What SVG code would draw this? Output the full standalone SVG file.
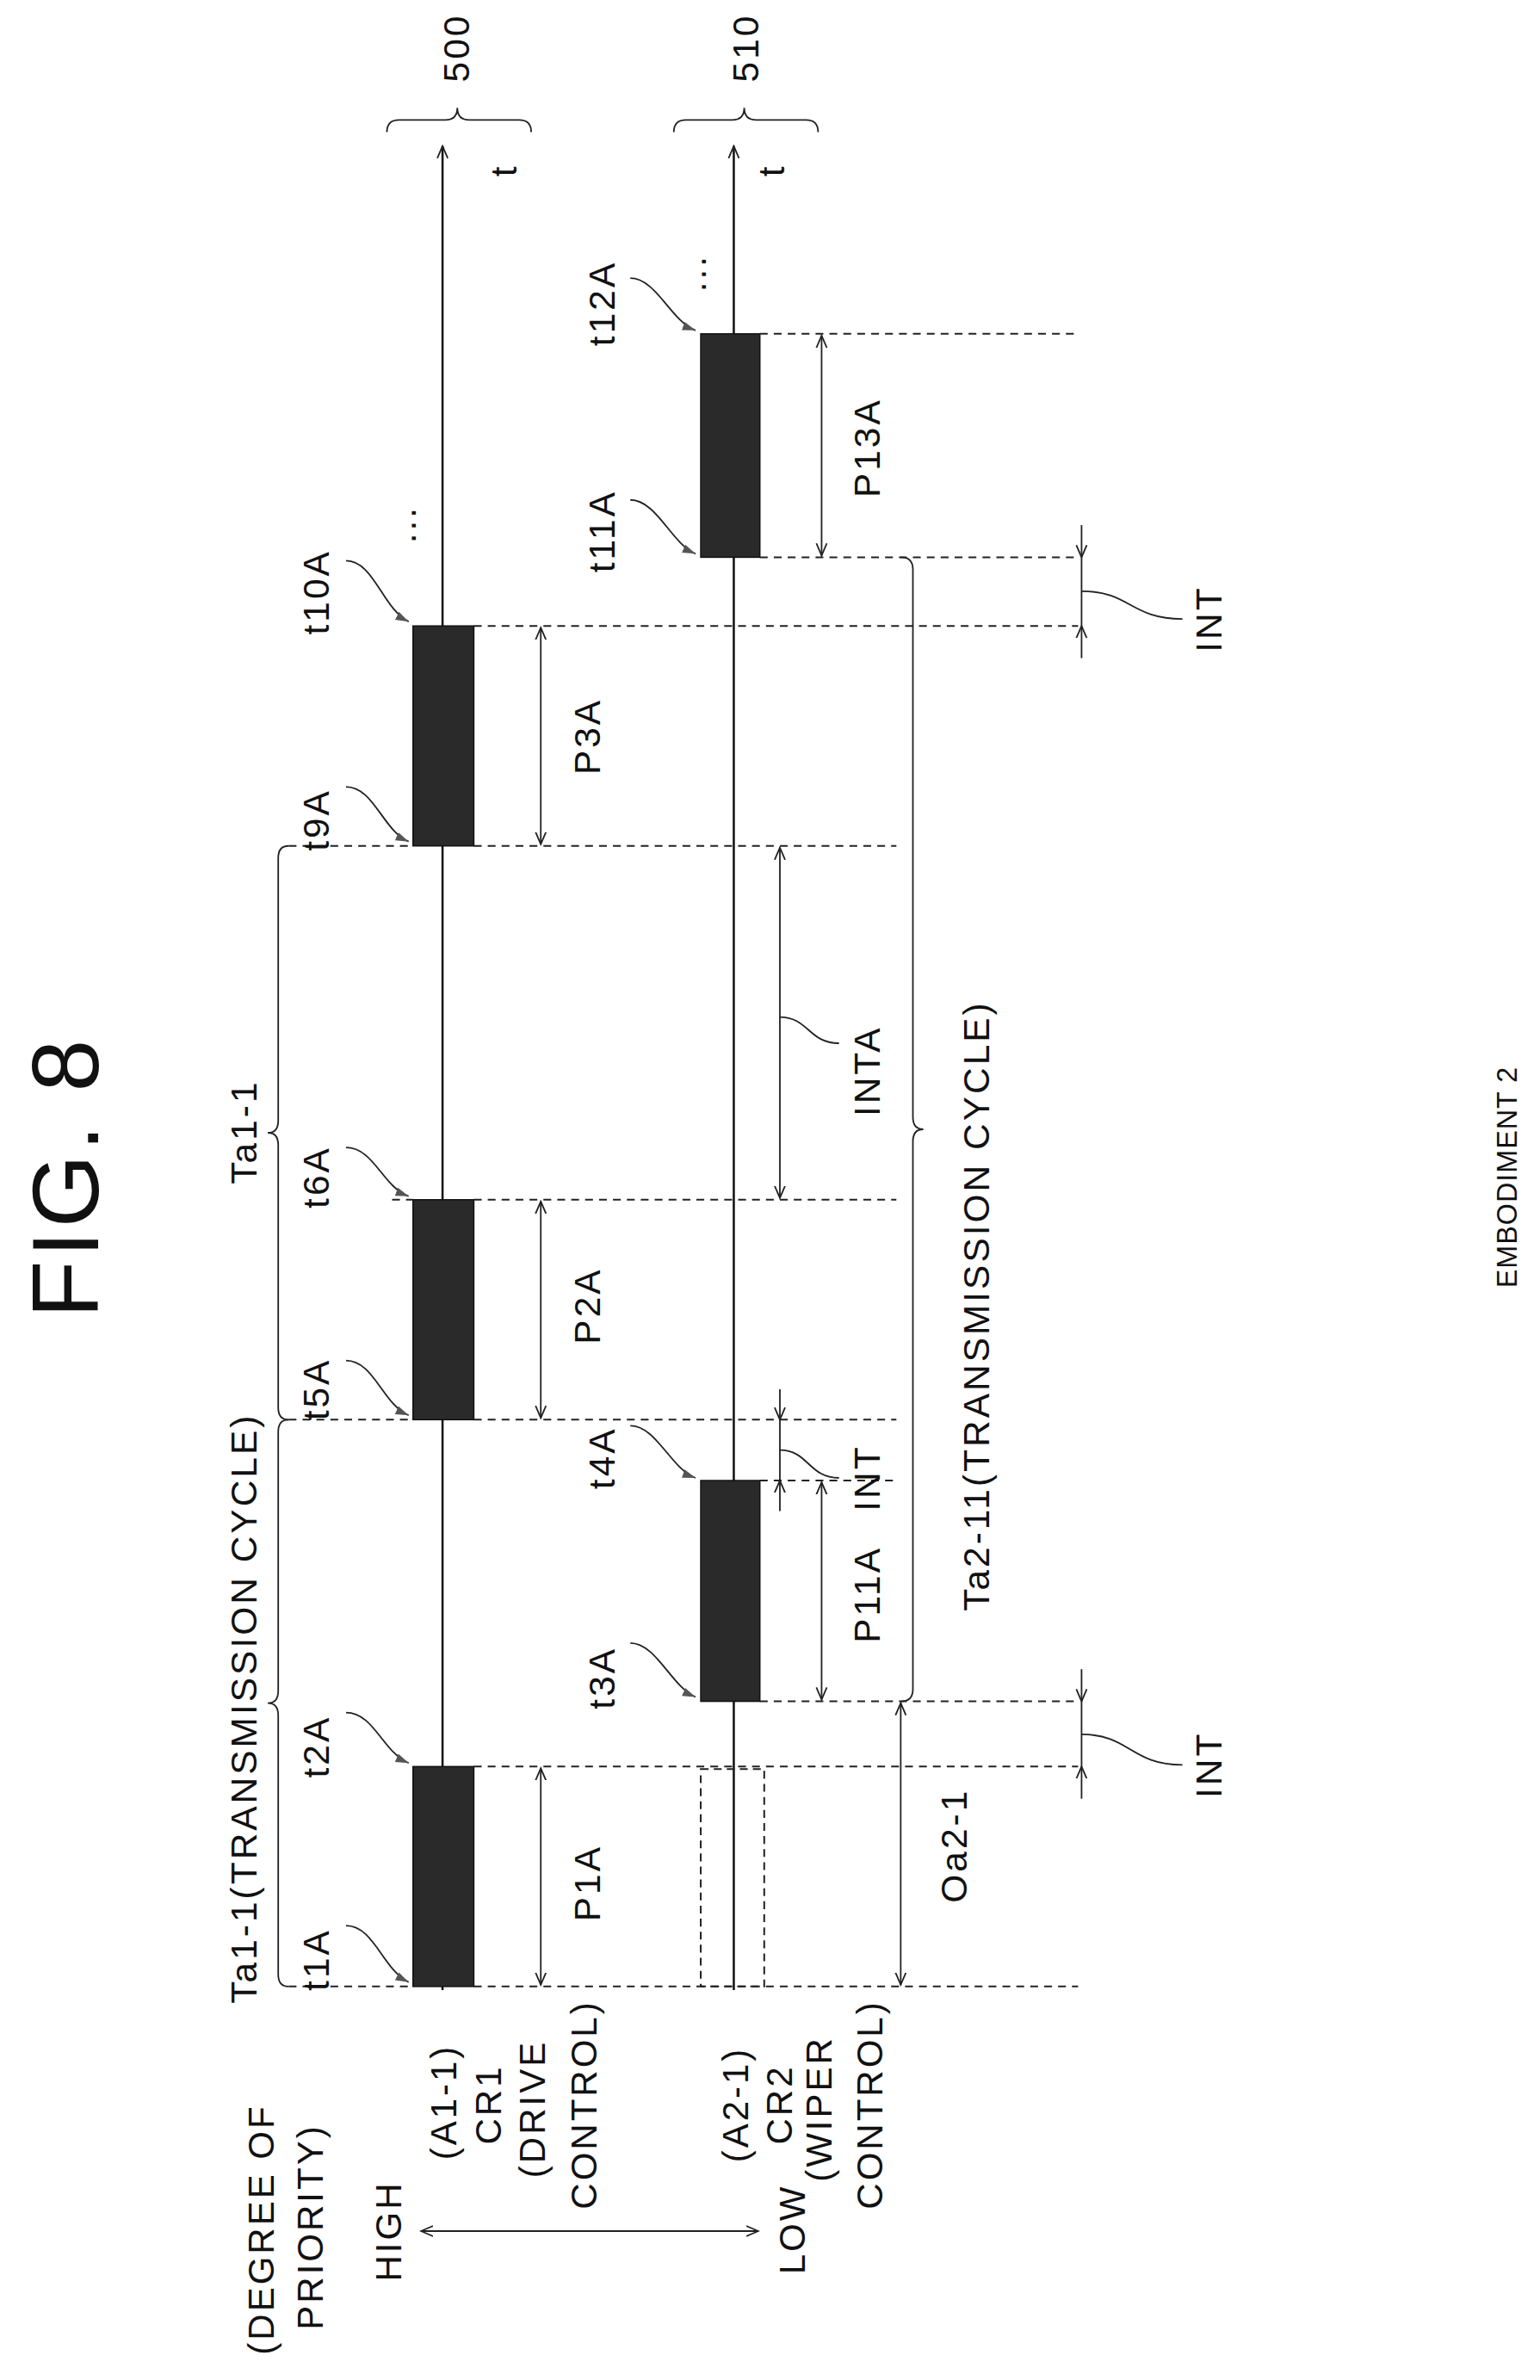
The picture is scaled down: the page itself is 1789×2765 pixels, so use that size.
<svg xmlns="http://www.w3.org/2000/svg" width="1789" height="2765" viewBox="0 0 1789 2765">
<style>
text{font-family:"Liberation Sans",Arial,sans-serif;font-size:42px;letter-spacing:3px;fill:#111}
.ax{stroke:#111;stroke-width:2.5;fill:none}
.d{stroke:#222;stroke-width:2;stroke-dasharray:9 7;fill:none}
.a{stroke:#222;stroke-width:1.8;fill:none}
.br{stroke:#222;stroke-width:1.8;fill:none}
.bar{fill:#2a2a2a;stroke:#111;stroke-width:1.5}
</style>
<defs>
<marker id="v" markerWidth="16" markerHeight="16" refX="14" refY="8" orient="auto-start-reverse" markerUnits="userSpaceOnUse"><path d="M0,2 L14,8 L0,14" fill="none" stroke="#222" stroke-width="1.8"/></marker>
<marker id="f" markerWidth="16" markerHeight="12" refX="15" refY="6" orient="auto" markerUnits="userSpaceOnUse"><path d="M0,1 L15,6 L0,11 Z" fill="#555"/></marker>
</defs>
<g transform="scale(1.01)">
<text transform="translate(113,1354) rotate(-90)" text-anchor="middle" style="font-size:108px;letter-spacing:4px">FIG. 8</text>
<text transform="translate(1745,1354) rotate(-90)" text-anchor="middle" style="font-size:32px;letter-spacing:1px">EMBODIMENT 2</text>

<g id="axes">
<line class="ax" x1="509" y1="2289" x2="509" y2="168" marker-end="url(#v)"/>
<line class="ax" x1="844" y1="2289" x2="844" y2="168" marker-end="url(#v)"/>
<text transform="translate(594,196) rotate(-90)" text-anchor="middle">t</text>
<text transform="translate(902,196) rotate(-90)" text-anchor="middle">t</text>
<path class="br" d="M445,152 Q445,138 459,138 L512,138 Q526,138 526,124 Q526,138 540,138 L597,138 Q611,138 611,152"/>
<path class="br" d="M775,152 Q775,138 789,138 L842,138 Q856,138 856,124 Q856,138 870,138 L927,138 Q941,138 941,152"/>
<text transform="translate(540,55) rotate(-90)" text-anchor="middle">500</text>
<text transform="translate(872,55) rotate(-90)" text-anchor="middle">510</text>
<text transform="translate(478,603) rotate(-90)" text-anchor="middle">...</text>
<text transform="translate(812,314) rotate(-90)" text-anchor="middle">...</text>
</g>

<g id="bars">
<rect class="bar" x="475" y="2032" width="70" height="253"/>
<rect class="bar" x="475" y="1380" width="70" height="253"/>
<rect class="bar" x="475" y="720" width="70" height="253"/>
<rect class="bar" x="806" y="1703" width="68" height="254"/>
<rect class="bar" x="806" y="384" width="68" height="257"/>
<rect x="806" y="2035" width="73" height="250" fill="none" stroke="#222" stroke-width="2" stroke-dasharray="9 6"/>
</g>

<g id="dashed">
<path class="d" d="M332,2285 H475 M545,2285 H1240"/>
<path class="d" d="M545,2032 H1240"/>
<path class="d" d="M874,1957 H1240"/>
<path class="d" d="M874,1703 H1031"/>
<path class="d" d="M332,1633 H475 M545,1633 H1031"/>
<path class="d" d="M451,1380 H475 M545,1380 H1031"/>
<path class="d" d="M332,973 H475 M545,973 H1031"/>
<path class="d" d="M545,720 H1240"/>
<path class="d" d="M874,641 H1240"/>
<path class="d" d="M874,384 H1240"/>
</g>

<g id="connectors">
<line class="a" x1="622" y1="2034" x2="622" y2="2283" marker-start="url(#v)" marker-end="url(#v)"/>
<line class="a" x1="622" y1="1382" x2="622" y2="1631" marker-start="url(#v)" marker-end="url(#v)"/>
<line class="a" x1="622" y1="722" x2="622" y2="971" marker-start="url(#v)" marker-end="url(#v)"/>
<line class="a" x1="945" y1="1705" x2="945" y2="1955" marker-start="url(#v)" marker-end="url(#v)"/>
<line class="a" x1="945" y1="386" x2="945" y2="639" marker-start="url(#v)" marker-end="url(#v)"/>
<line class="a" x1="897" y1="975" x2="897" y2="1378" marker-start="url(#v)" marker-end="url(#v)"/>
<line class="a" x1="1036" y1="1959" x2="1036" y2="2283" marker-start="url(#v)" marker-end="url(#v)"/>
<line class="a" x1="897" y1="1598" x2="897" y2="1633" marker-end="url(#v)"/>
<line class="a" x1="897" y1="1738" x2="897" y2="1703" marker-end="url(#v)"/>
<line class="a" x1="897" y1="1633" x2="897" y2="1703"/>
<line class="a" x1="1244" y1="1920" x2="1244" y2="1957" marker-end="url(#v)"/>
<line class="a" x1="1244" y1="2069" x2="1244" y2="2032" marker-end="url(#v)"/>
<line class="a" x1="1244" y1="1957" x2="1244" y2="2032"/>
<line class="a" x1="1244" y1="604" x2="1244" y2="641" marker-end="url(#v)"/>
<line class="a" x1="1244" y1="757" x2="1244" y2="720" marker-end="url(#v)"/>
<line class="a" x1="1244" y1="641" x2="1244" y2="720"/>
<path class="a" d="M897,1668 C930,1668 930,1700 965,1700"/>
<path class="a" d="M897,1170 C930,1170 930,1200 965,1200"/>
<path class="a" d="M1244,1995 C1300,1995 1300,2030 1360,2030"/>
<path class="a" d="M1244,680 C1300,680 1300,712 1360,712"/>
<path class="br" d="M332,1633 Q320,1633 320,1647 L320,1945 Q320,1959 308,1959 Q320,1959 320,1973 L320,2271 Q320,2285 332,2285"/>
<path class="br" d="M332,973 Q320,973 320,987 L320,1289 Q320,1303 308,1303 Q320,1303 320,1317 L320,1619 Q320,1633 332,1633"/>
<path class="br" d="M1036,641 Q1050,641 1050,655 L1050,1285 Q1050,1299 1062,1299 Q1050,1299 1050,1313 L1050,1943 Q1050,1957 1036,1957"/>
<path class="a" d="M398,2215 C430,2215 440,2265 470,2280" marker-end="url(#f)"/>
<path class="a" d="M398,1970 C430,1970 440,2015 470,2028" marker-end="url(#f)"/>
<path class="a" d="M398,1565 C430,1565 440,1615 470,1628" marker-end="url(#f)"/>
<path class="a" d="M398,1320 C430,1320 440,1365 470,1376" marker-end="url(#f)"/>
<path class="a" d="M398,905 C430,905 440,955 470,968" marker-end="url(#f)"/>
<path class="a" d="M398,645 C430,645 440,700 470,715" marker-end="url(#f)"/>
<path class="a" d="M725,1890 C755,1890 772,1940 800,1952" marker-end="url(#f)"/>
<path class="a" d="M725,1640 C755,1640 772,1690 800,1700" marker-end="url(#f)"/>
<path class="a" d="M725,575 C755,575 772,625 800,637" marker-end="url(#f)"/>
<path class="a" d="M725,320 C755,320 772,370 800,380" marker-end="url(#f)"/>
</g>

<g id="labels">
<text transform="translate(378,2254) rotate(-90)" text-anchor="middle">t1A</text>
<text transform="translate(378,2009) rotate(-90)" text-anchor="middle">t2A</text>
<text transform="translate(378,1598) rotate(-90)" text-anchor="middle">t5A</text>
<text transform="translate(378,1354) rotate(-90)" text-anchor="middle">t6A</text>
<text transform="translate(378,943) rotate(-90)" text-anchor="middle">t9A</text>
<text transform="translate(378,681) rotate(-90)" text-anchor="middle">t10A</text>
<text transform="translate(707,1930) rotate(-90)" text-anchor="middle">t3A</text>
<text transform="translate(707,1677) rotate(-90)" text-anchor="middle">t4A</text>
<text transform="translate(707,611) rotate(-90)" text-anchor="middle">t11A</text>
<text transform="translate(707,349) rotate(-90)" text-anchor="middle">t12A</text>
<text transform="translate(690,2166) rotate(-90)" text-anchor="middle">P1A</text>
<text transform="translate(690,1502) rotate(-90)" text-anchor="middle">P2A</text>
<text transform="translate(690,847) rotate(-90)" text-anchor="middle">P3A</text>
<text transform="translate(1012,1834) rotate(-90)" text-anchor="middle">P11A</text>
<text transform="translate(1012,515) rotate(-90)" text-anchor="middle">P13A</text>
<text transform="translate(1012,1232) rotate(-90)" text-anchor="middle">INTA</text>
<text transform="translate(1012,1700) rotate(-90)" text-anchor="middle">INT</text>
<text transform="translate(1405,2030) rotate(-90)" text-anchor="middle">INT</text>
<text transform="translate(1405,712) rotate(-90)" text-anchor="middle">INT</text>
<text transform="translate(1112,2123) rotate(-90)" text-anchor="middle">Oa2-1</text>
<text transform="translate(295,1965) rotate(-90)" text-anchor="middle">Ta1-1(TRANSMISSION CYCLE)</text>
<text transform="translate(295,1302) rotate(-90)" text-anchor="middle">Ta1-1</text>
<text transform="translate(1138,1502) rotate(-90)" text-anchor="middle">Ta2-11(TRANSMISSION CYCLE)</text>
</g>
</g>
<g id="legend">
<line class="a" x1="489" y1="2592" x2="881" y2="2592" marker-start="url(#v)" marker-end="url(#v)"/>
<text transform="translate(318,2590) rotate(-90)" text-anchor="middle">(DEGREE OF</text>
<text transform="translate(375,2587) rotate(-90)" text-anchor="middle">PRIORITY)</text>
<text transform="translate(466,2592) rotate(-90)" text-anchor="middle">HIGH</text>
<text transform="translate(530,2442) rotate(-90)" text-anchor="middle">(A1-1)</text>
<text transform="translate(582,2445) rotate(-90)" text-anchor="middle">CR1</text>
<text transform="translate(633,2450) rotate(-90)" text-anchor="middle">(DRIVE</text>
<text transform="translate(693,2445) rotate(-90)" text-anchor="middle">CONTROL)</text>
<text transform="translate(935,2590) rotate(-90)" text-anchor="middle">LOW</text>
<text transform="translate(869,2445) rotate(-90)" text-anchor="middle">(A2-1)</text>
<text transform="translate(920,2445) rotate(-90)" text-anchor="middle">CR2</text>
<text transform="translate(966,2450) rotate(-90)" text-anchor="middle">(WIPER</text>
<text transform="translate(1025,2445) rotate(-90)" text-anchor="middle">CONTROL)</text>
</g>
</svg>
